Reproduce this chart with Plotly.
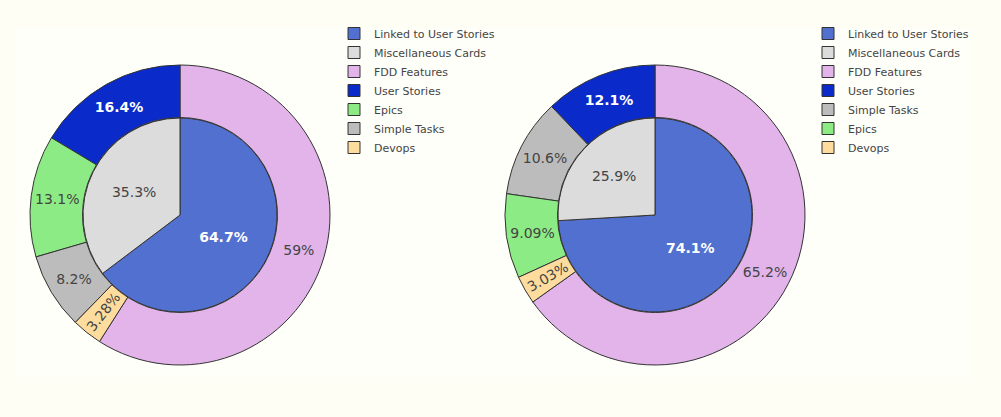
import plotly.graph_objects as go

# inner pies: cards linked to user stories vs the rest
inner_labels = ["Linked to User Stories", "Miscellaneous Cards"]
inner_left = [11, 6]
inner_right = [20, 7]

# outer rings: card types
outer_labels = ["FDD Features", "User Stories", "Epics", "Simple Tasks", "Devops"]
outer_left = [36, 10, 8, 5, 2]
outer_right = [43, 8, 6, 7, 2]

colors = {
    "Linked to User Stories": "#5170CF",
    "Miscellaneous Cards": "#DCDCDC",
    "FDD Features": "#E2B4EA",
    "User Stories": "#0A2BC9",
    "Epics": "#8DEB85",
    "Simple Tasks": "#BCBCBC",
    "Devops": "#FDDC9E",
}
dark_slices = ["Linked to User Stories", "User Stories"]

W, H = 1001, 417
OFF = 8  # page body margin
FONT = "DejaVu Sans"


def px_x(v):
    return (v - OFF) / W


def px_y(v):
    return 1 - (v - OFF) / H


def text_style(labels):
    return dict(
        family=FONT,
        size=14,
        color=["white" if l in dark_slices else "#444" for l in labels],
        weight=["bold" if l in dark_slices else "normal" for l in labels],
    )


def add_pair(fig, cx, cy, inner_vals, outer_vals, legend, tag=""):
    # pie legend entries are merged by label, so the second chart gets an
    # invisible suffix to get its own legend
    r_out, r_in = 150, 97
    fig.add_trace(go.Pie(
        labels=[l + tag for l in inner_labels], values=inner_vals,
        marker=dict(colors=[colors[l] for l in inner_labels],
                    line=dict(color="#333", width=1)),
        textinfo="percent", textposition="inside",
        textfont=text_style(inner_labels),
        domain=dict(x=[px_x(cx - r_in), px_x(cx + r_in)],
                    y=[px_y(cy + r_in), px_y(cy - r_in)]),
        legend=legend, hoverinfo="label+value+percent",
    ))
    fig.add_trace(go.Pie(
        labels=[l + tag for l in outer_labels], values=outer_vals, hole=0.65,
        marker=dict(colors=[colors[l] for l in outer_labels],
                    line=dict(color="#333", width=1)),
        textinfo="percent", textposition="inside",
        textfont=text_style(outer_labels),
        domain=dict(x=[px_x(cx - r_out), px_x(cx + r_out)],
                    y=[px_y(cy + r_out), px_y(cy - r_out)]),
        legend=legend, hoverinfo="label+value+percent",
    ))


fig = go.Figure()
add_pair(fig, 180, 215, inner_left, outer_left, "legend")
add_pair(fig, 655, 215, inner_right, outer_right, "legend2", tag="\u200b")

legend_style = dict(font=dict(family=FONT, size=11, color="#444"),
                    xanchor="left", yanchor="top", bgcolor="rgba(0,0,0,0)")

fig.update_layout(
    width=W, height=H,
    margin=dict(l=0, r=0, t=0, b=0),
    paper_bgcolor="#FFFEF4",
    font=dict(family=FONT, color="#444"),
    legend=dict(x=px_x(334), y=px_y(19), **legend_style),
    legend2=dict(x=px_x(808), y=px_y(19), **legend_style),
    shapes=[dict(type="rect", xref="paper", yref="paper", layer="below",
                 x0=px_x(15), x1=px_x(972), y0=px_y(377), y1=px_y(28),
                 fillcolor="#FFFFF9", line=dict(width=0))],
)

fig.write_html("out.html",
               post_script="document.body.style.background='#FFFEF4';")
